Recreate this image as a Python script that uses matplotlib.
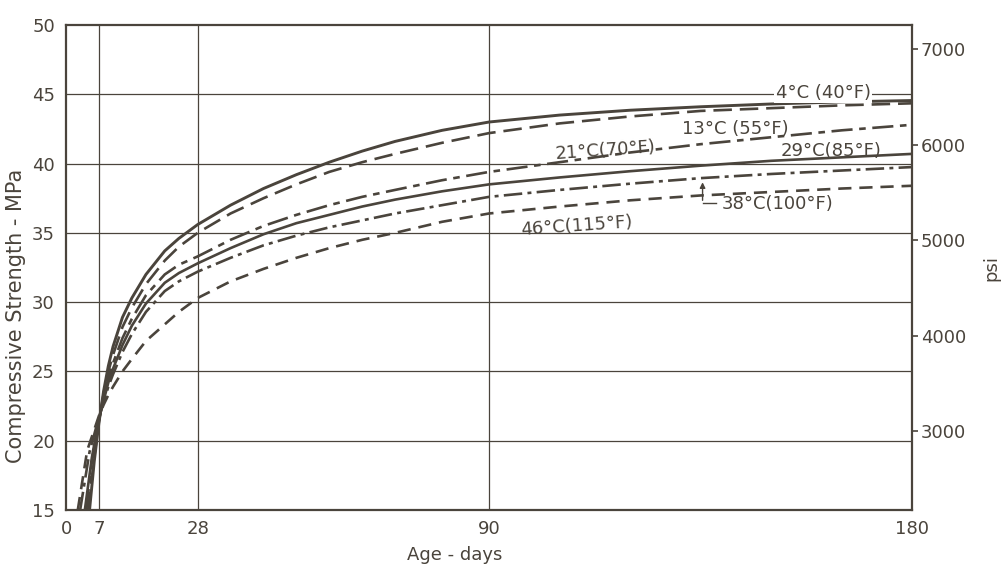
import matplotlib
matplotlib.use("Agg")
import matplotlib.pyplot as plt

# ---- data ----
age_4 = [5, 6, 7, 8, 9, 10, 12, 14, 17, 21, 24, 28, 35, 42, 49, 56, 63, 70, 80, 90, 105, 120, 135, 150, 165, 180]
str_4 = [15, 18.5, 21.3, 23.6, 25.4, 26.8, 28.9, 30.3, 32.0, 33.7, 34.6, 35.6, 37.0, 38.2, 39.2, 40.1, 40.9, 41.6, 42.4, 43.0, 43.5, 43.85, 44.1, 44.3, 44.45, 44.55]

age_13 = [4.7, 6, 7, 8, 9, 10, 12, 14, 17, 21, 24, 28, 35, 42, 49, 56, 63, 70, 80, 90, 105, 120, 135, 150, 165, 180]
str_13 = [15, 18.8, 21.4, 23.4, 25.0, 26.2, 28.2, 29.6, 31.3, 33.0, 34.0, 35.0, 36.4, 37.5, 38.5, 39.4, 40.1, 40.7, 41.5, 42.2, 42.9, 43.4, 43.8, 44.0, 44.2, 44.35]

age_21 = [4.3, 5.5, 7, 8, 9, 10, 12, 14, 17, 21, 24, 28, 35, 42, 49, 56, 63, 70, 80, 90, 105, 120, 135, 150, 165, 180]
str_21 = [15, 18.5, 21.5, 23.1, 24.5, 25.6, 27.4, 28.8, 30.5, 32.0, 32.7, 33.3, 34.5, 35.5, 36.3, 37.0, 37.6, 38.1, 38.8, 39.4, 40.1, 40.8, 41.4, 41.9, 42.4, 42.8]

age_29 = [4.0, 5.5, 7, 8, 9, 10, 12, 14, 17, 21, 24, 28, 35, 42, 49, 56, 63, 70, 80, 90, 105, 120, 135, 150, 165, 180]
str_29 = [15, 18.8, 21.6, 22.9, 24.2, 25.2, 26.9, 28.3, 29.9, 31.4, 32.1, 32.8, 33.9, 34.9, 35.7, 36.3, 36.9, 37.4, 38.0, 38.5, 39.0, 39.45, 39.85, 40.2, 40.45, 40.7]

age_38 = [3.0, 5, 7, 8, 9, 10, 12, 14, 17, 21, 24, 28, 35, 42, 49, 56, 63, 70, 80, 90, 105, 120, 135, 150, 165, 180]
str_38 = [15, 19.2, 21.7, 22.8, 23.9, 24.8, 26.4, 27.7, 29.3, 30.8, 31.5, 32.2, 33.2, 34.1, 34.8, 35.4, 35.9, 36.4, 37.0, 37.6, 38.1, 38.55, 38.95, 39.25, 39.5, 39.75]

age_46 = [2.5, 4.5, 7, 8, 9, 10, 12, 14, 17, 21, 24, 28, 35, 42, 49, 56, 63, 70, 80, 90, 105, 120, 135, 150, 165, 180]
str_46 = [15, 19.3, 21.8, 22.6, 23.3, 23.9, 25.0, 25.9, 27.2, 28.4, 29.3, 30.3, 31.5, 32.4, 33.2, 33.9, 34.5, 35.0, 35.8, 36.4, 36.9, 37.35, 37.7, 37.95, 38.2, 38.4]

curve_labels = ["4°C (40°F)", "13°C (55°F)", "21°C(70°F)", "29°C(85°F)", "38°C(100°F)", "46°C(115°F)"]
x_ticks = [0, 7, 28, 90, 180]
y_ticks = [15, 20, 25, 30, 35, 40, 45, 50]
psi_ticks = [3000, 4000, 5000, 6000, 7000]

INK = "#4a443c"
plt.rcParams["font.family"] = ["DejaVu Sans"]

fig = plt.figure(figsize=(10.05, 5.68), dpi=100)
fig.patch.set_facecolor("white")
ax = fig.add_axes([0.0657, 0.102, 0.842, 0.854])
ax.set_xlim(0, 180)
ax.set_ylim(15, 50)

# grid
for d in [7, 28, 90]:
    ax.axvline(d, color=INK, lw=0.9, zorder=1)
for v in [20, 25, 30, 35, 40, 45]:
    ax.axhline(v, color=INK, lw=0.9, zorder=1)

lw = 1.9
kw = dict(color=INK, lw=lw, zorder=3, solid_joinstyle="round", dash_joinstyle="round")
ax.plot(age_4, str_4, ls="-", **{**kw, "lw": lw + 0.2})
ax.plot(age_13, str_13, dashes=(7, 3), **kw)
ax.plot(age_21, str_21, dashes=(8, 2.5, 2.5, 2.5), **kw)
ax.plot(age_29, str_29, ls="-", **kw)
ax.plot(age_38, str_38, dashes=(7, 2, 1.5, 2), **kw)
ax.plot(age_46, str_46, dashes=(5, 3), **kw)

for s in ax.spines.values():
    s.set_color(INK)
    s.set_linewidth(1.6)

ax.set_xticks(x_ticks)
ax.set_yticks(y_ticks)
ax.tick_params(axis="both", length=0, labelsize=13, colors=INK)
ax.tick_params(axis="x", pad=7)
ax.tick_params(axis="y", pad=8)

ax.set_xlabel("Age - days", fontsize=13, color=INK)
ax.xaxis.set_label_coords(0.459, -0.075)
ax.set_ylabel("Compressive Strength - MPa", fontsize=15, color=INK)
ax.yaxis.set_label_coords(-0.047, 0.40)

sec = ax.secondary_yaxis("right", functions=(lambda m: m * 145.038, lambda p: p / 145.038))
sec.set_yticks(psi_ticks)
sec.tick_params(axis="y", length=4, width=1.2, direction="out", labelsize=13, colors=INK, pad=2)
sec.spines["right"].set_visible(False)
sec.set_ylabel("psi", fontsize=13, color=INK, rotation=90, labelpad=12)

tk = dict(fontsize=13, color=INK, zorder=4)
ax.text(151, 45.1, curve_labels[0], ha="left", va="center",
        bbox=dict(facecolor="white", edgecolor="none", pad=1), **tk)
ax.text(131, 42.5, curve_labels[1], ha="left", va="center", **tk)
ax.text(104, 40.05, curve_labels[2], ha="left", va="bottom", rotation=4, **tk)
ax.text(152, 40.25, curve_labels[3], ha="left", va="bottom", **tk)
ax.text(139.4, 37.1, curve_labels[4], ha="left", va="center", **tk)
ax.text(96.5, 35.5, curve_labels[5], ha="left", va="center", rotation=4, **tk)

# leader for 38 degC label
ax.annotate("", xy=(135.4, 38.85), xytext=(135.4, 37.15),
            arrowprops=dict(arrowstyle="-|>", color=INK, lw=1.0, mutation_scale=8))
ax.plot([135.4, 138.2], [37.15, 37.15], color=INK, lw=1.0)

fig.savefig("out.png", dpi=100)
